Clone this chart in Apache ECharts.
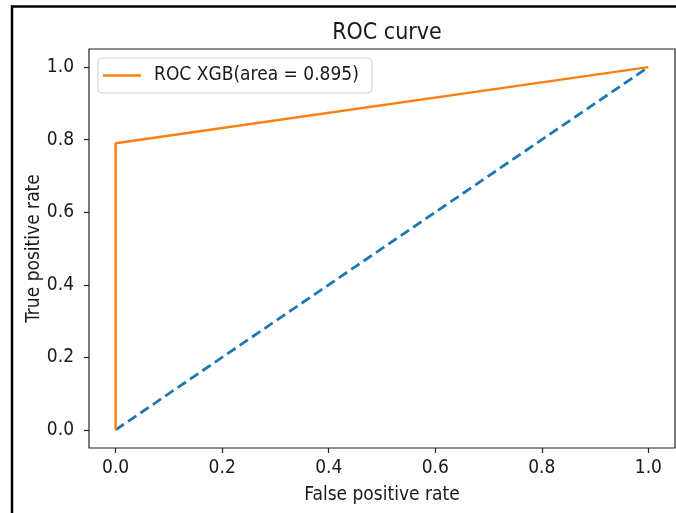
<!DOCTYPE html>
<html>
<head>
<meta charset="utf-8">
<script src="https://cdn.jsdelivr.net/npm/echarts@6/dist/echarts.min.js"></script>
<style>
  html, body { margin: 0; padding: 0; background: #fff; }
  #chart { width: 676px; height: 513px; }
</style>
</head>
<body>
<div id="chart"></div>
<script>
// ROC curve data
var rocFpr = [0, 0, 1]
var rocTpr = [0, 0.79, 1]
var diagFpr = [0, 1]
var diagTpr = [0, 1]
var tickValues = [0, 0.2, 0.4, 0.6, 0.8, 1.0]
var legendName = 'ROC XGB(area = 0.895)'

var FONT = '"DejaVu Sans Condensed", "DejaVu Sans", sans-serif'

function pairs(xs, ys) {
  var out = []
  for (var i = 0; i < xs.length; i++) {
    out.push([xs[i], ys[i]])
  }
  return out
}

var chart = echarts.init(document.getElementById('chart'), null, { renderer: 'canvas' })

var option = {
  backgroundColor: '#fff',
  animation: false,
  title: {
    text: 'ROC curve',
    left: 382,
    textAlign: 'center',
    top: 17,
    textStyle: { fontFamily: FONT, fontSize: 23, fontWeight: 'normal', color: '#1a1a1a' }
  },
  legend: {
    left: 98,
    top: 58,
    data: [legendName],
    icon: 'rect',
    itemWidth: 38,
    itemHeight: 2.5,
    padding: [8, 13, 8, 5],
    borderColor: '#d0d0d0',
    borderWidth: 1,
    borderRadius: 4,
    backgroundColor: '#fff',
    textStyle: { fontFamily: FONT, fontSize: 19, color: '#1a1a1a', padding: [0, 0, 0, 8] }
  },
  grid: {
    left: 89,
    right: 1,
    top: 49,
    bottom: 65,
    show: true,
    borderColor: '#222',
    borderWidth: 1.2,
    backgroundColor: 'transparent'
  },
  xAxis: {
    type: 'value',
    min: -0.05,
    max: 1.05,
    name: 'False positive rate',
    nameLocation: 'middle',
    nameGap: 38,
    nameMoveOverlap: false,
    nameTextStyle: { fontFamily: FONT, fontSize: 19, color: '#1a1a1a' },
    axisLine: { show: false, onZero: false },
    splitLine: { show: false },
    axisTick: { show: true, length: 5, customValues: tickValues, lineStyle: { color: '#222', width: 1.2 } },
    axisLabel: {
      customValues: tickValues,
      margin: 11,
      fontFamily: FONT,
      fontSize: 19,
      color: '#1a1a1a',
      formatter: function (v) { return v.toFixed(1) }
    }
  },
  yAxis: {
    type: 'value',
    min: -0.05,
    max: 1.05,
    name: 'True positive rate',
    nameLocation: 'middle',
    nameGap: 45,
    nameMoveOverlap: false,
    nameTextStyle: { fontFamily: FONT, fontSize: 19, color: '#1a1a1a' },
    axisLine: { show: false, onZero: false },
    splitLine: { show: false },
    axisTick: { show: true, length: 5, customValues: tickValues, lineStyle: { color: '#222', width: 1.2 } },
    axisLabel: {
      customValues: tickValues,
      margin: 15,
      fontFamily: FONT,
      fontSize: 19,
      color: '#1a1a1a',
      formatter: function (v) { return v.toFixed(1) }
    }
  },
  series: [
    {
      name: 'diag',
      type: 'line',
      data: pairs(diagFpr, diagTpr),
      symbol: 'none',
      lineStyle: { color: '#1f77b4', width: 2.8, type: [10, 5], cap: 'butt' },
      z: 2
    },
    {
      name: legendName,
      type: 'line',
      data: pairs(rocFpr, rocTpr),
      symbol: 'none',
      itemStyle: { color: '#ff7f0e' },
      lineStyle: { color: '#ff7f0e', width: 2.5 },
      z: 3
    }
  ],
  graphic: [
    {
      type: 'polyline',
      shape: { points: [[12, 513], [12, 6.5], [676, 6.5]] },
      style: { stroke: '#000', lineWidth: 2.5, fill: null },
      silent: true
    }
  ]
}

chart.setOption(option)
</script>
</body>
</html>
